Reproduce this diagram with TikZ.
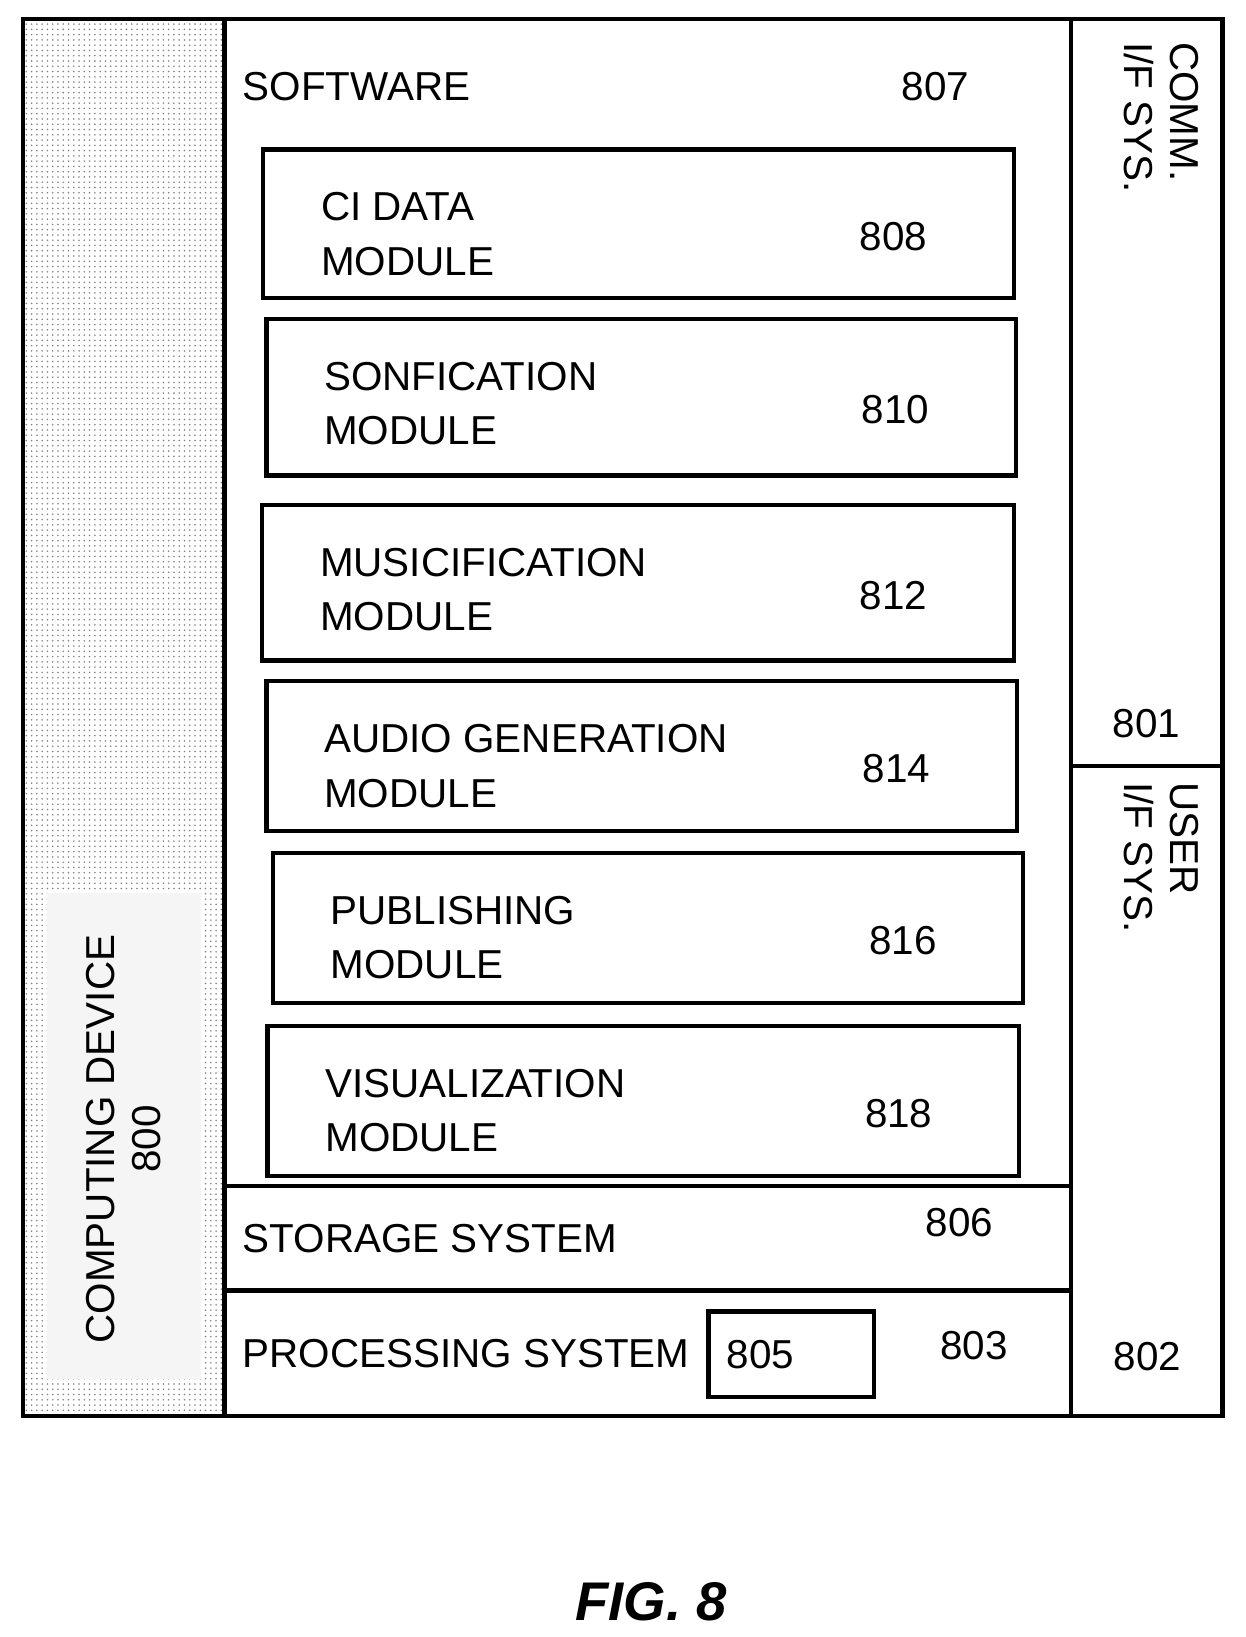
\documentclass[tikz,border=0pt]{standalone}
\usepackage{fontspec}
\setmainfont{Liberation Sans}
\usetikzlibrary{patterns}

\begin{document}
\begin{tikzpicture}[x=0.0209cm, y=-0.0209cm,
    frame/.style={draw=black, line width=2.6pt},
    modbox/.style={draw=black, line width=2.4pt},
    txt/.style={font=\fontsize{23}{26}\selectfont, inner sep=0pt},
    lbl/.style={txt, anchor=west, align=left},
]
\useasboundingbox (0,0) rectangle (1191.4,1566.5);
% dotted column
\fill[pattern=dots, pattern color=gray] (22,18) rectangle (215,1355);
\fill[gray!8] (45,855) rectangle (192,1320);
\node[txt, rotate=90, align=center] (dev) at (118,1090) {COMPUTING DEVICE\\800};
% main frames
\draw[frame] (22,18) rectangle (1170,1355);
\draw[frame] (215,18) -- (215,1355);
\draw[frame] (1025,18) -- (1025,1355);
\draw[frame] (215,1135) -- (1025,1135);
\draw[frame] (215,1235) -- (1025,1235);
\draw[frame] (1025,733) -- (1170,733);
% software
\node[lbl] (sw) at (232,83) {SOFTWARE};
\node[txt] (sw-num) at (895,83) {807};
\foreach \name/\xa/\ya/\xb/\yb/\first/\num in {
    ci/252/143/970/285/{CI DATA}/808,
    son/255/305/972/455/SONFICATION/810,
    mus/251/483/970/632/MUSICIFICATION/812,
    aud/255/652/973/795/AUDIO GENERATION/814,
    pub/261/816/979/960/PUBLISHING/816,
    vis/256/982/975/1125/VISUALIZATION/818}
{
    \pgfmathsetmacro{\xl}{\xa+55}
    \pgfmathsetmacro{\yt}{\ya+55}
    \pgfmathsetmacro{\yl}{\ya+107}
    \pgfmathsetmacro{\xn}{\xb-115}
    \pgfmathsetmacro{\yn}{(\ya+\yb)/2+12}
    \draw[modbox] (\xa,\ya) rectangle (\xb,\yb);
    \node[lbl] (\name-a) at (\xl,\yt) {\first};
    \node[lbl] (\name-b) at (\xl,\yl) {MODULE};
    \node[txt] (\name-num) at (\xn,\yn) {\num};
}
% storage and processing
\node[lbl] (sto) at (232,1185) {STORAGE SYSTEM};
\node[txt] (sto-num) at (918,1170) {806};
\node[lbl] (proc) at (232,1295) {PROCESSING SYSTEM};
\draw[modbox] (678,1255) rectangle (836,1337);
\node[lbl] (cpu) at (695,1296) {805};
\node[txt] (proc-num) at (932,1288) {803};
% interface column
\node[txt, rotate=-90, align=left, anchor=north west] (comm) at (1147,40) {COMM.\\I/F SYS.};
\node[txt] (comm-num) at (1097,692) {801};
\node[txt, rotate=-90, align=left, anchor=north west] (user) at (1147,748) {USER\\I/F SYS.};
\node[txt] (user-num) at (1098,1298) {802};
% caption
\node[font=\fontsize{31}{34}\selectfont\bfseries\itshape] (fig) at (623,1533) {FIG. 8};
\end{tikzpicture}
\end{document}
